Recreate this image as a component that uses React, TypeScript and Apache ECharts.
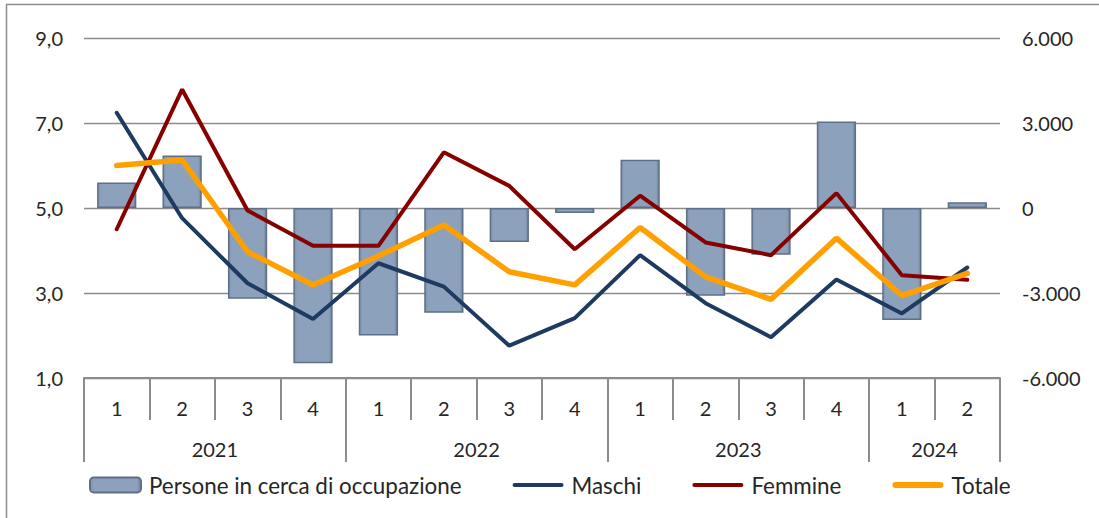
import React, { useEffect, useRef } from "react";
import * as echarts from "echarts";

const quarters = ["1", "2", "3", "4", "1", "2", "3", "4", "1", "2", "3", "4", "1", "2"];
const years = ["2021", "2022", "2023", "2024"];
const quartersPerYear = [4, 4, 4, 2];

const persone = [900, 1850, -3200, -5480, -4500, -3700, -1200, -180, 1700, -3100, -1650, 3050, -3950, 200];
const maschi = [7.24, 4.76, 3.23, 2.39, 3.7, 3.15, 1.76, 2.41, 3.89, 2.76, 1.96, 3.32, 2.52, 3.6];
const femmine = [4.5, 7.79, 4.94, 4.11, 4.11, 6.31, 5.52, 4.03, 5.29, 4.19, 3.89, 5.35, 3.42, 3.31];
const totale = [6.0, 6.13, 3.97, 3.19, 3.87, 4.6, 3.5, 3.19, 4.54, 3.38, 2.85, 4.29, 2.94, 3.46];

const FONT = "Lato";
const TEXT = "#262626";
const AXIS = "#8c8c8c";

const LINE_ICON = "path://M2,0H48A2,2 0 0 1 48,4H2A2,2 0 0 1 2,0Z";
const THICK_ICON = "path://M3,0H47A3,3 0 0 1 47,6H3A3,3 0 0 1 3,0Z";

export default function App() {
  const ref = useRef<HTMLDivElement>(null);

  useEffect(() => {
    if (!ref.current) return;
    const chart = echarts.init(ref.current, undefined, { renderer: "svg" });

    const bounds: number[] = [0];
    const mids: number[] = [];
    const midLabel: Record<string, string> = {};
    let acc = 0;
    quartersPerYear.forEach((n, i) => {
      const mid = acc + n / 2;
      mids.push(mid);
      midLabel[String(mid)] = years[i];
      acc += n;
      bounds.push(acc);
    });

    const fmtLeft = (v: number) => v.toFixed(1).replace(".", ",");
    const fmtRight = (v: number) => {
      const s = Math.abs(v).toString().replace(/\B(?=(\d{3})+(?!\d))/g, ".");
      return (v < 0 ? "-" : "") + s;
    };

    chart.setOption({
      animation: false,
      textStyle: { fontFamily: FONT },
      graphic: [
        {
          type: "rect",
          shape: { x: 6.5, y: 4.5, width: 1300, height: 700 },
          style: { fill: "none", stroke: AXIS, lineWidth: 1.5 },
          silent: true,
        },
      ],
      grid: { left: 84, right: 99, top: 38, bottom: 140, containLabel: false },
      legend: {
        left: 89,
        top: 474,
        padding: 0,
        itemWidth: 51,
        itemHeight: 15,
        itemGap: 51,
        textStyle: { fontSize: 22.4, color: TEXT, fontFamily: FONT, padding: [0, 0, 0, 3] },
        data: [
          { name: "Persone in cerca di occupazione" },
          { name: "Maschi", icon: LINE_ICON },
          { name: "Femmine", icon: LINE_ICON },
          { name: "Totale", icon: THICK_ICON },
        ],
      },
      xAxis: [
        {
          type: "category",
          data: quarters,
          position: "bottom",
          boundaryGap: true,
          axisLine: { show: true, onZero: false, lineStyle: { color: AXIS, width: 2 } },
          axisTick: { show: true, length: 42, interval: 0, lineStyle: { color: AXIS, width: 2 } },
          axisLabel: { interval: 0, margin: 20, fontSize: 20, color: TEXT, fontFamily: FONT },
          splitLine: { show: false },
        },
        {
          type: "value",
          min: 0,
          max: quarters.length,
          position: "bottom",
          offset: 42,
          axisLine: { show: false, onZero: false },
          axisTick: {
            show: true,
            length: 42,
            customValues: bounds,
            lineStyle: { color: AXIS, width: 2 },
          },
          axisLabel: {
            show: true,
            margin: 19,
            fontSize: 20,
            color: TEXT,
            fontFamily: FONT,
            customValues: mids,
            formatter: (v: number) => midLabel[String(v)] || "",
          },
          splitLine: { show: false },
        },
      ],
      yAxis: [
        {
          type: "value",
          min: 1,
          max: 9,
          interval: 2,
          position: "left",
          axisLine: { show: false },
          axisTick: { show: false },
          axisLabel: { formatter: fmtLeft, margin: 21, fontSize: 20, color: TEXT, fontFamily: FONT },
          splitLine: { show: true, lineStyle: { color: AXIS, width: 1.3 } },
        },
        {
          type: "value",
          min: -6000,
          max: 6000,
          interval: 3000,
          position: "right",
          axisLine: { show: false },
          axisTick: { show: false },
          axisLabel: { formatter: fmtRight, margin: 22, fontSize: 20, color: TEXT, fontFamily: FONT },
          splitLine: { show: false },
        },
      ],
      series: [
        {
          name: "Persone in cerca di occupazione",
          type: "bar",
          xAxisIndex: 0,
          yAxisIndex: 1,
          data: persone,
          barWidth: "60%",
          itemStyle: {
            color: new echarts.graphic.LinearGradient(0, 0, 1, 0, [
              { offset: 0, color: "#7f93ad" },
              { offset: 0.08, color: "#8ca1bc" },
              { offset: 0.92, color: "#8ca1bc" },
              { offset: 1, color: "#70839c" },
            ]),
            borderColor: "#5f6f86",
            borderWidth: 1.5,
          },
          z: 2,
        },
        {
          name: "Maschi",
          type: "line",
          xAxisIndex: 0,
          yAxisIndex: 0,
          data: maschi,
          symbol: "none",
          lineStyle: { color: "#1f3a60", width: 4, cap: "round" },
          itemStyle: { color: "#1f3a60" },
          z: 3,
        },
        {
          name: "Femmine",
          type: "line",
          xAxisIndex: 0,
          yAxisIndex: 0,
          data: femmine,
          symbol: "none",
          lineStyle: { color: "#860000", width: 4, cap: "round" },
          itemStyle: { color: "#860000" },
          z: 4,
        },
        {
          name: "Totale",
          type: "line",
          xAxisIndex: 0,
          yAxisIndex: 0,
          data: totale,
          symbol: "none",
          lineStyle: { color: "#ffa000", width: 5.5, cap: "round" },
          itemStyle: { color: "#ffa000" },
          z: 5,
        },
      ],
    });

    return () => chart.dispose();
  }, []);

  return (
    <div
      ref={ref}
      style={{ position: "fixed", left: 0, top: 0, width: 1099, height: 518, background: "#fff" }}
    />
  );
}
